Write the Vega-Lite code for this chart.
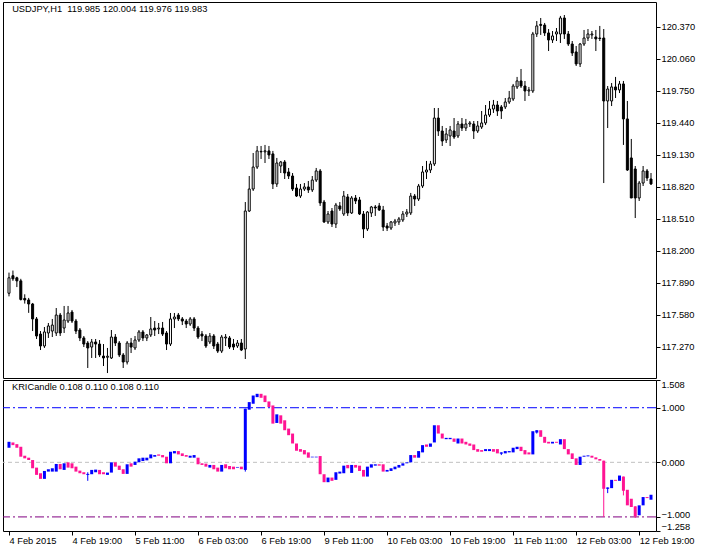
{
"$schema": "https://vega.github.io/schema/vega-lite/v6.json",
"background": "white",
"padding": {"left": 2, "top": 1, "right": 0, "bottom": 0},
"spacing": 0,
"config": {
  "view": {"stroke": "black", "strokeWidth": 1},
  "axis": {"labelFont": "Liberation Sans", "labelFontSize": 9.3, "labelColor": "black", "tickColor": "black", "tickSize": 4, "domain": false, "grid": false, "labelOverlap": false, "labelSeparation": 0},
  "font": "Liberation Sans"
},
"data": {"values": [
{"i":0,"o":117.79,"h":117.99,"l":117.76,"c":117.94,"ko":0.267,"kc":0.376},
{"i":1,"o":117.96,"h":118.01,"l":117.91,"c":117.93,"ko":0.364,"kc":0.315},
{"i":2,"o":117.94,"h":117.95,"l":117.85,"c":117.91,"ko":0.333,"kc":0.267},
{"i":3,"o":117.91,"h":117.93,"l":117.72,"c":117.73,"ko":0.285,"kc":0.103},
{"i":4,"o":117.74,"h":117.78,"l":117.69,"c":117.725,"ko":0.121,"kc":0.073},
{"i":5,"o":117.725,"h":117.745,"l":117.60,"c":117.686,"ko":0.085,"kc":0.042},
{"i":6,"o":117.686,"h":117.696,"l":117.424,"c":117.541,"ko":0.042,"kc":-0.109},
{"i":7,"o":117.541,"h":117.56,"l":117.347,"c":117.376,"ko":-0.097,"kc":-0.23},
{"i":8,"o":117.395,"h":117.424,"l":117.24,"c":117.279,"ko":-0.2,"kc":-0.303},
{"i":9,"o":117.279,"h":117.463,"l":117.26,"c":117.415,"ko":-0.303,"kc":-0.158},
{"i":10,"o":117.405,"h":117.502,"l":117.357,"c":117.473,"ko":-0.17,"kc":-0.127},
{"i":11,"o":117.424,"h":117.541,"l":117.366,"c":117.482,"ko":-0.17,"kc":-0.109},
{"i":12,"o":117.405,"h":117.647,"l":117.376,"c":117.579,"ko":-0.17,"kc":-0.03},
{"i":13,"o":117.579,"h":117.599,"l":117.376,"c":117.405,"ko":-0.03,"kc":-0.127},
{"i":14,"o":117.453,"h":117.667,"l":117.405,"c":117.531,"ko":-0.139,"kc":-0.018},
{"i":15,"o":117.521,"h":117.667,"l":117.502,"c":117.599,"ko":0.0,"kc":-0.097},
{"i":16,"o":117.608,"h":117.628,"l":117.502,"c":117.521,"ko":-0.018,"kc":-0.109},
{"i":17,"o":117.521,"h":117.541,"l":117.395,"c":117.424,"ko":-0.079,"kc":-0.17},
{"i":18,"o":117.434,"h":117.453,"l":117.327,"c":117.357,"ko":-0.152,"kc":-0.2},
{"i":19,"o":117.357,"h":117.376,"l":117.269,"c":117.298,"ko":-0.182,"kc":-0.218},
{"i":20,"o":117.308,"h":117.327,"l":117.066,"c":117.26,"ko":-0.23,"kc":-0.212,"kl":-0.339,"kh":-0.182},
{"i":21,"o":117.269,"h":117.347,"l":117.163,"c":117.318,"ko":-0.218,"kc":-0.139},
{"i":22,"o":117.318,"h":117.347,"l":117.163,"c":117.298,"ko":-0.182,"kc":-0.133},
{"i":23,"o":117.298,"h":117.337,"l":117.172,"c":117.192,"ko":-0.139,"kc":-0.218},
{"i":24,"o":117.182,"h":117.298,"l":117.085,"c":117.163,"ko":-0.182,"kc":-0.218},
{"i":25,"o":117.17,"h":117.26,"l":117.017,"c":117.18,"ko":-0.23,"kc":-0.188},
{"i":26,"o":117.163,"h":117.434,"l":117.153,"c":117.366,"ko":-0.188,"kc":0.0},
{"i":27,"o":117.366,"h":117.395,"l":117.279,"c":117.308,"ko":0.0,"kc":-0.079},
{"i":28,"o":117.308,"h":117.327,"l":117.172,"c":117.192,"ko":-0.061,"kc":-0.139},
{"i":29,"o":117.192,"h":117.211,"l":117.066,"c":117.124,"ko":-0.127,"kc":-0.212},
{"i":30,"o":117.124,"h":117.327,"l":117.10,"c":117.308,"ko":-0.212,"kc":-0.036},
{"i":31,"o":117.308,"h":117.357,"l":117.211,"c":117.269,"ko":-0.018,"kc":-0.079},
{"i":32,"o":117.26,"h":117.376,"l":117.24,"c":117.337,"ko":-0.048,"kc":0.012},
{"i":33,"o":117.337,"h":117.434,"l":117.318,"c":117.415,"ko":0.0,"kc":0.073},
{"i":34,"o":117.415,"h":117.434,"l":117.327,"c":117.357,"ko":0.024,"kc":0.085},
{"i":35,"o":117.357,"h":117.395,"l":117.327,"c":117.386,"ko":0.036,"kc":0.085},
{"i":36,"o":117.386,"h":117.56,"l":117.366,"c":117.444,"ko":0.073,"kc":0.145},
{"i":37,"o":117.453,"h":117.521,"l":117.376,"c":117.434,"ko":0.103,"kc":0.133},
{"i":38,"o":117.444,"h":117.502,"l":117.395,"c":117.453,"ko":0.145,"kc":0.121},
{"i":39,"o":117.453,"h":117.512,"l":117.376,"c":117.395,"ko":0.133,"kc":0.091},
{"i":40,"o":117.405,"h":117.424,"l":117.24,"c":117.298,"ko":0.103,"kc":-0.018},
{"i":41,"o":117.298,"h":117.599,"l":117.279,"c":117.541,"ko":-0.018,"kc":0.194},
{"i":42,"o":117.541,"h":117.599,"l":117.453,"c":117.56,"ko":0.164,"kc":0.206},
{"i":43,"o":117.579,"h":117.599,"l":117.521,"c":117.541,"ko":0.206,"kc":0.145},
{"i":44,"o":117.541,"h":117.56,"l":117.482,"c":117.521,"ko":0.164,"kc":0.115},
{"i":45,"o":117.521,"h":117.541,"l":117.453,"c":117.492,"ko":0.133,"kc":0.103},
{"i":46,"o":117.492,"h":117.56,"l":117.473,"c":117.541,"ko":0.085,"kc":0.121},
{"i":47,"o":117.541,"h":117.56,"l":117.424,"c":117.453,"ko":0.085,"kc":0.133},
{"i":48,"o":117.453,"h":117.473,"l":117.347,"c":117.366,"ko":0.085,"kc":-0.036},
{"i":49,"o":117.395,"h":117.424,"l":117.327,"c":117.376,"ko":-0.018,"kc":-0.048},
{"i":50,"o":117.376,"h":117.395,"l":117.26,"c":117.279,"ko":-0.024,"kc":-0.079},
{"i":51,"o":117.318,"h":117.405,"l":117.298,"c":117.376,"ko":-0.097,"kc":-0.048},
{"i":52,"o":117.376,"h":117.395,"l":117.25,"c":117.279,"ko":-0.048,"kc":-0.127},
{"i":53,"o":117.298,"h":117.318,"l":117.211,"c":117.23,"ko":-0.097,"kc":-0.17},
{"i":54,"o":117.23,"h":117.386,"l":117.211,"c":117.366,"ko":-0.17,"kc":-0.048},
{"i":55,"o":117.357,"h":117.395,"l":117.279,"c":117.366,"ko":-0.036,"kc":-0.109},
{"i":56,"o":117.357,"h":117.376,"l":117.25,"c":117.269,"ko":-0.067,"kc":-0.127},
{"i":57,"o":117.298,"h":117.347,"l":117.24,"c":117.269,"ko":-0.079,"kc":-0.127},
{"i":58,"o":117.279,"h":117.337,"l":117.26,"c":117.308,"ko":-0.097,"kc":-0.085},
{"i":59,"o":117.308,"h":117.347,"l":117.23,"c":117.24,"ko":-0.079,"kc":-0.127},
{"i":60,"o":117.25,"h":118.674,"l":117.153,"c":118.587,"ko":-0.139,"kc":0.982,"kl":-0.17,"kh":0.982},
{"i":61,"o":118.587,"h":118.926,"l":118.577,"c":118.80,"ko":0.964,"kc":1.103},
{"i":62,"o":118.80,"h":119.149,"l":118.781,"c":119.013,"ko":1.073,"kc":1.224},
{"i":63,"o":119.013,"h":119.217,"l":118.994,"c":119.169,"ko":1.194,"kc":1.255},
{"i":64,"o":119.165,"h":119.217,"l":119.091,"c":119.16,"ko":1.255,"kc":1.182},
{"i":65,"o":119.16,"h":119.227,"l":119.052,"c":119.17,"ko":1.224,"kc":1.103},
{"i":66,"o":119.169,"h":119.217,"l":119.091,"c":119.13,"ko":1.115,"kc":1.012},
{"i":67,"o":119.14,"h":119.169,"l":118.80,"c":118.849,"ko":1.042,"kc":0.709},
{"i":68,"o":118.849,"h":119.101,"l":118.82,"c":119.052,"ko":0.721,"kc":0.879},
{"i":69,"o":119.023,"h":119.072,"l":118.955,"c":119.062,"ko":0.861,"kc":0.709},
{"i":70,"o":119.062,"h":119.081,"l":118.897,"c":118.955,"ko":0.77,"kc":0.588},
{"i":71,"o":118.965,"h":119.004,"l":118.897,"c":118.926,"ko":0.618,"kc":0.497},
{"i":72,"o":118.926,"h":118.955,"l":118.781,"c":118.80,"ko":0.527,"kc":0.345},
{"i":73,"o":118.81,"h":118.849,"l":118.723,"c":118.732,"ko":0.345,"kc":0.212},
{"i":74,"o":118.732,"h":118.849,"l":118.713,"c":118.80,"ko":0.242,"kc":0.194},
{"i":75,"o":118.80,"h":118.858,"l":118.781,"c":118.82,"ko":0.224,"kc":0.145},
{"i":76,"o":118.82,"h":118.878,"l":118.762,"c":118.791,"ko":0.182,"kc":0.085},
{"i":77,"o":118.791,"h":118.926,"l":118.771,"c":118.887,"ko":0.091,"kc":0.103},
{"i":78,"o":118.887,"h":119.004,"l":118.868,"c":118.975,"ko":0.091,"kc":0.103},
{"i":79,"o":118.975,"h":118.994,"l":118.636,"c":118.665,"ko":0.115,"kc":-0.218},
{"i":80,"o":118.674,"h":118.694,"l":118.471,"c":118.481,"ko":-0.218,"kc":-0.364},
{"i":81,"o":118.481,"h":118.587,"l":118.461,"c":118.558,"ko":-0.364,"kc":-0.279},
{"i":82,"o":118.587,"h":118.616,"l":118.432,"c":118.461,"ko":-0.279,"kc":-0.339},
{"i":83,"o":118.461,"h":118.665,"l":118.422,"c":118.645,"ko":-0.321,"kc":-0.182},
{"i":84,"o":118.636,"h":118.674,"l":118.587,"c":118.606,"ko":-0.206,"kc":-0.17},
{"i":85,"o":118.558,"h":118.781,"l":118.539,"c":118.732,"ko":-0.2,"kc":-0.061},
{"i":86,"o":118.723,"h":118.752,"l":118.539,"c":118.568,"ko":-0.048,"kc":-0.109},
{"i":87,"o":118.568,"h":118.732,"l":118.558,"c":118.713,"ko":-0.194,"kc":-0.048},
{"i":88,"o":118.713,"h":118.742,"l":118.655,"c":118.684,"ko":-0.048,"kc":-0.097},
{"i":89,"o":118.694,"h":118.723,"l":118.548,"c":118.558,"ko":-0.061,"kc":-0.158},
{"i":90,"o":118.558,"h":118.587,"l":118.325,"c":118.413,"ko":-0.139,"kc":-0.261},
{"i":91,"o":118.413,"h":118.587,"l":118.393,"c":118.577,"ko":-0.261,"kc":-0.079},
{"i":92,"o":118.568,"h":118.636,"l":118.529,"c":118.626,"ko":-0.097,"kc":-0.036},
{"i":93,"o":118.626,"h":118.645,"l":118.539,"c":118.616,"ko":-0.061,"kc":-0.036},
{"i":94,"o":118.636,"h":118.665,"l":118.587,"c":118.597,"ko":-0.036,"kc":-0.061},
{"i":95,"o":118.597,"h":118.636,"l":118.393,"c":118.432,"ko":-0.036,"kc":-0.17},
{"i":96,"o":118.442,"h":118.471,"l":118.393,"c":118.422,"ko":-0.17,"kc":-0.139},
{"i":97,"o":118.422,"h":118.49,"l":118.403,"c":118.481,"ko":-0.158,"kc":-0.109},
{"i":98,"o":118.471,"h":118.51,"l":118.442,"c":118.49,"ko":-0.127,"kc":-0.079},
{"i":99,"o":118.481,"h":118.529,"l":118.452,"c":118.51,"ko":-0.097,"kc":-0.048},
{"i":100,"o":118.50,"h":118.587,"l":118.481,"c":118.558,"ko":-0.061,"kc":-0.018},
{"i":101,"o":118.558,"h":118.606,"l":118.529,"c":118.577,"ko":-0.018,"kc":0.0},
{"i":102,"o":118.568,"h":118.762,"l":118.548,"c":118.732,"ko":0.0,"kc":0.133},
{"i":103,"o":118.732,"h":118.752,"l":118.636,"c":118.703,"ko":0.133,"kc":0.085},
{"i":104,"o":118.703,"h":118.849,"l":118.684,"c":118.829,"ko":0.085,"kc":0.206},
{"i":105,"o":118.829,"h":119.023,"l":118.81,"c":118.965,"ko":0.182,"kc":0.315},
{"i":106,"o":118.965,"h":119.072,"l":118.897,"c":118.984,"ko":0.327,"kc":0.285},
{"i":107,"o":118.984,"h":119.072,"l":118.955,"c":119.043,"ko":0.285,"kc":0.345},
{"i":108,"o":119.043,"h":119.585,"l":119.023,"c":119.488,"ko":0.364,"kc":0.679},
{"i":109,"o":119.488,"h":119.585,"l":119.314,"c":119.362,"ko":0.679,"kc":0.527},
{"i":110,"o":119.362,"h":119.411,"l":119.217,"c":119.265,"ko":0.527,"kc":0.436},
{"i":111,"o":119.275,"h":119.391,"l":119.246,"c":119.333,"ko":0.424,"kc":0.448},
{"i":112,"o":119.314,"h":119.411,"l":119.217,"c":119.372,"ko":0.424,"kc":0.448},
{"i":113,"o":119.362,"h":119.488,"l":119.285,"c":119.304,"ko":0.436,"kc":0.376},
{"i":114,"o":119.314,"h":119.459,"l":119.294,"c":119.43,"ko":0.345,"kc":0.436},
{"i":115,"o":119.43,"h":119.488,"l":119.362,"c":119.391,"ko":0.436,"kc":0.345},
{"i":116,"o":119.391,"h":119.479,"l":119.362,"c":119.43,"ko":0.376,"kc":0.327},
{"i":117,"o":119.43,"h":119.459,"l":119.401,"c":119.44,"ko":0.345,"kc":0.303},
{"i":118,"o":119.43,"h":119.459,"l":119.285,"c":119.362,"ko":0.327,"kc":0.224},
{"i":119,"o":119.362,"h":119.459,"l":119.343,"c":119.411,"ko":0.242,"kc":0.194},
{"i":120,"o":119.401,"h":119.556,"l":119.382,"c":119.44,"ko":0.224,"kc":0.194},
{"i":121,"o":119.44,"h":119.614,"l":119.42,"c":119.517,"ko":0.206,"kc":0.242},
{"i":122,"o":119.517,"h":119.653,"l":119.498,"c":119.575,"ko":0.206,"kc":0.242},
{"i":123,"o":119.575,"h":119.663,"l":119.537,"c":119.614,"ko":0.242,"kc":0.194},
{"i":124,"o":119.614,"h":119.653,"l":119.508,"c":119.556,"ko":0.242,"kc":0.164},
{"i":125,"o":119.595,"h":119.614,"l":119.479,"c":119.556,"ko":0.158,"kc":0.182,"kl":0.133,"kh":0.182},
{"i":126,"o":119.595,"h":119.682,"l":119.575,"c":119.643,"ko":0.164,"kc":0.206},
{"i":127,"o":119.643,"h":119.75,"l":119.624,"c":119.682,"ko":0.182,"kc":0.206},
{"i":128,"o":119.672,"h":119.818,"l":119.653,"c":119.798,"ko":0.182,"kc":0.267},
{"i":129,"o":119.789,"h":119.886,"l":119.769,"c":119.847,"ko":0.242,"kc":0.285},
{"i":130,"o":119.847,"h":119.963,"l":119.779,"c":119.798,"ko":0.285,"kc":0.206},
{"i":131,"o":119.798,"h":119.847,"l":119.653,"c":119.75,"ko":0.224,"kc":0.145},
{"i":132,"o":119.75,"h":119.789,"l":119.701,"c":119.76,"ko":0.182,"kc":0.145},
{"i":133,"o":119.75,"h":120.322,"l":119.731,"c":120.302,"ko":0.145,"kc":0.57},
{"i":134,"o":120.302,"h":120.428,"l":120.273,"c":120.38,"ko":0.545,"kc":0.588,"kl":0.527,"kh":0.588},
{"i":135,"o":120.395,"h":120.457,"l":120.293,"c":120.385,"ko":0.588,"kc":0.467},
{"i":136,"o":120.389,"h":120.409,"l":120.283,"c":120.312,"ko":0.467,"kc":0.358},
{"i":137,"o":120.312,"h":120.35,"l":120.137,"c":120.244,"ko":0.376,"kc":0.345},
{"i":138,"o":120.244,"h":120.331,"l":120.215,"c":120.283,"ko":0.345,"kc":0.376},
{"i":139,"o":120.302,"h":120.36,"l":120.234,"c":120.322,"ko":0.376,"kc":0.358},
{"i":140,"o":120.302,"h":120.477,"l":120.215,"c":120.457,"ko":0.327,"kc":0.424},
{"i":141,"o":120.457,"h":120.486,"l":120.254,"c":120.302,"ko":0.424,"kc":0.242},
{"i":142,"o":120.302,"h":120.331,"l":120.186,"c":120.205,"ko":0.242,"kc":0.145},
{"i":143,"o":120.205,"h":120.234,"l":120.089,"c":120.118,"ko":0.164,"kc":0.061},
{"i":144,"o":120.128,"h":120.186,"l":119.992,"c":120.012,"ko":0.073,"kc":-0.048},
{"i":145,"o":120.012,"h":120.215,"l":119.982,"c":120.205,"ko":-0.048,"kc":0.103},
{"i":146,"o":120.205,"h":120.341,"l":120.186,"c":120.263,"ko":0.103,"kc":0.121},
{"i":147,"o":120.263,"h":120.35,"l":120.234,"c":120.302,"ko":0.109,"kc":0.127},
{"i":148,"o":120.293,"h":120.331,"l":120.254,"c":120.302,"ko":0.121,"kc":0.085},
{"i":149,"o":120.273,"h":120.341,"l":120.137,"c":120.254,"ko":0.091,"kc":0.055},
{"i":150,"o":120.263,"h":120.38,"l":120.234,"c":120.258,"ko":0.061,"kc":0.03},
{"i":151,"o":120.263,"h":120.35,"l":118.858,"c":119.653,"ko":0.03,"kc":-0.485,"kl":-1.0,"kh":0.03},
{"i":152,"o":119.653,"h":119.798,"l":119.391,"c":119.769,"ko":-0.485,"kc":-0.461,"kl":-0.564,"kh":-0.461},
{"i":153,"o":119.653,"h":119.827,"l":119.604,"c":119.789,"ko":-0.473,"kc":-0.321},
{"i":154,"o":119.789,"h":119.886,"l":119.682,"c":119.76,"ko":-0.321,"kc":-0.339},
{"i":155,"o":119.76,"h":119.847,"l":119.73,"c":119.818,"ko":-0.339,"kc":-0.242},
{"i":156,"o":119.818,"h":119.847,"l":119.227,"c":119.479,"ko":-0.261,"kc":-0.521,"kl":-0.606,"kh":-0.261},
{"i":157,"o":119.479,"h":119.653,"l":118.975,"c":118.984,"ko":-0.503,"kc":-0.788},
{"i":158,"o":119.101,"h":119.285,"l":118.713,"c":118.713,"ko":-0.667,"kc":-0.818},
{"i":159,"o":118.994,"h":119.023,"l":118.519,"c":118.713,"ko":-0.806,"kc":-0.988,"kl":-1.018,"kh":-0.806},
{"i":160,"o":118.713,"h":118.878,"l":118.684,"c":118.858,"ko":-0.97,"kc":-0.788},
{"i":161,"o":118.858,"h":119.023,"l":118.829,"c":118.975,"ko":-0.788,"kc":-0.636},
{"i":162,"o":118.975,"h":118.994,"l":118.878,"c":118.907,"ko":-0.636,"kc":-0.655},
{"i":163,"o":118.897,"h":118.955,"l":118.839,"c":118.849,"ko":-0.685,"kc":-0.594}
]},
"vconcat": [
  {
    "width": 653, "height": 376,
    "layer": [
      {"mark": {"type": "rule", "color": "black", "strokeWidth": 1, "clip": true},
       "encoding": {
         "x": {"field": "i", "type": "quantitative", "title": null, "scale": {"domain": [-0.25, 163], "nice": false, "zero": false}, "axis": null},
         "y": {"field": "l", "type": "quantitative", "title": null, "scale": {"domain": [116.969, 120.612], "nice": false, "zero": false},
               "axis": {"orient": "right", "values": [117.27, 117.58, 117.89, 118.2, 118.51, 118.82, 119.13, 119.44, 119.75, 120.06, 120.37], "tickCount": 50, "format": ".3f", "labelPadding": 1, "labelAlign": "left", "labelFlush": false, "labelOverlap": false}},
         "y2": {"field": "h"}}},
      {"mark": {"type": "bar", "size": 2, "stroke": "black", "strokeWidth": 1, "clip": true},
       "encoding": {
         "x": {"field": "i", "type": "quantitative", "title": null},
         "y": {"field": "o", "type": "quantitative", "title": null},
         "y2": {"field": "c"},
         "fill": {"condition": {"test": "datum.c >= datum.o", "value": "white"}, "value": "black"}}},
      {"data": {"values": [{"t": "USDJPY,H1\u00a0 119.985 120.004 119.976 119.983"}]},
       "mark": {"type": "text", "align": "left", "baseline": "top", "fontSize": 9.3, "font": "Liberation Sans", "color": "black"},
       "encoding": {"text": {"field": "t"}, "x": {"datum": 0.8}, "y": {"datum": 120.583}}}
    ]
  },
  {
    "width": 653, "height": 151,
    "layer": [
      {"data": {"values": [{"lv": 0}]},
       "mark": {"type": "rule", "color": "#C0C0C0", "strokeWidth": 1, "strokeDash": [4, 3]},
       "encoding": {"y": {"field": "lv", "type": "quantitative", "title": null}}},
      {"data": {"values": [{"lv": 1}]},
       "mark": {"type": "rule", "color": "#0000FF", "strokeWidth": 1, "strokeDash": [9, 3, 2, 3]},
       "encoding": {"y": {"field": "lv", "type": "quantitative", "title": null}}},
      {"data": {"values": [{"lv": -1}]},
       "mark": {"type": "rule", "color": "#800080", "strokeWidth": 1, "strokeDash": [9, 3, 2, 3]},
       "encoding": {"y": {"field": "lv", "type": "quantitative", "title": null}}},
      {"transform": [{"filter": "isValid(datum.kl)"}],
       "mark": {"type": "rule", "strokeWidth": 1, "clip": true},
       "encoding": {
         "x": {"field": "i", "type": "quantitative", "title": null},
         "y": {"field": "kl", "type": "quantitative", "title": null},
         "y2": {"field": "kh"},
         "color": {"condition": {"test": "datum.kc >= datum.ko", "value": "#0000FF"}, "value": "#FF1493"}}},
      {"mark": {"type": "bar", "size": 3, "clip": true},
       "encoding": {
         "x": {"field": "i", "type": "quantitative", "title": null, "scale": {"domain": [-0.25, 163], "nice": false, "zero": false},
               "axis": {"orient": "bottom", "values": [0, 16, 32, 48, 64, 80, 96, 112, 128, 144, 160], "tickCount": 50, "labelAlign": "left", "labelPadding": 1, "labelFlush": false, "labelOverlap": false,
                        "labelExpr": "['4 Feb 2015','4 Feb 19:00','5 Feb 11:00','6 Feb 03:00','6 Feb 19:00','9 Feb 11:00','10 Feb 03:00','10 Feb 19:00','11 Feb 11:00','12 Feb 03:00','12 Feb 19:00'][round(datum.value/16)]"}},
         "y": {"field": "ko", "type": "quantitative", "title": null, "scale": {"domain": [-1.258, 1.508], "nice": false, "zero": false},
               "axis": {"orient": "right", "values": [1.508, 1, 0, -1, -1.258], "tickCount": 50, "format": ".3f", "labelPadding": 1, "labelAlign": "left", "labelFlush": true, "labelOverlap": false,
                        "labelOffset": {"condition": {"test": "datum.value > -1.1 && datum.value < -0.9", "value": -2}, "value": 0}}},
         "y2": {"field": "kc"},
         "color": {"condition": {"test": "datum.kc >= datum.ko", "value": "#0000FF"}, "value": "#FF1493"}}},
      {"data": {"values": [{"t": "KRICandle 0.108 0.110 0.108 0.110"}]},
       "mark": {"type": "text", "align": "left", "baseline": "top", "fontSize": 9.3, "font": "Liberation Sans", "color": "black"},
       "encoding": {"text": {"field": "t"}, "x": {"datum": 0.75}, "y": {"datum": 1.444}}}
    ]
  }
]
}
